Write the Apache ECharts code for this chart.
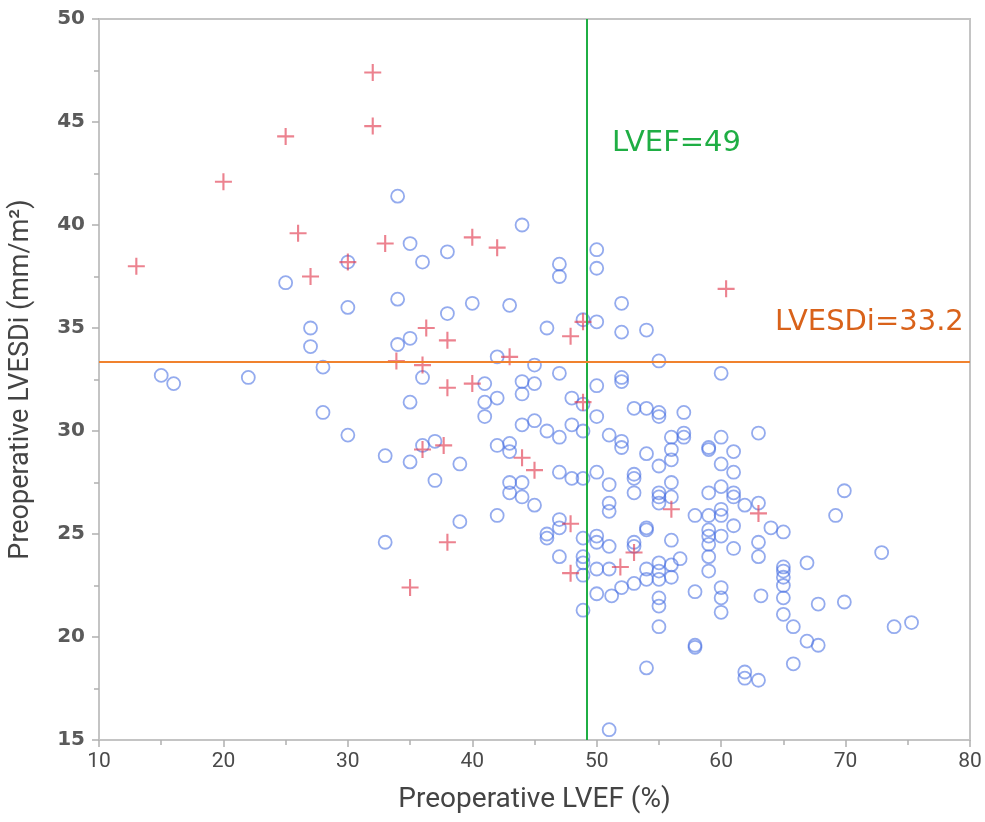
<!DOCTYPE html>
<html>
<head>
<meta charset="utf-8">
<script src="https://cdn.jsdelivr.net/npm/echarts@6/dist/echarts.min.js"></script>
<style>
  html, body { margin: 0; padding: 0; background: #fff; }
  #main { width: 985px; height: 822px; }
</style>
</head>
<body>
<div id="main"></div>
<script>
"use strict"
// axis ticks
var xTicks = { min: 10, max: 80, step: 10 };
var yTicks = { min: 15, max: 50, step: 5 };

// cut-off lines
var lvefCut = 49.2;
var lvesdiCut = 33.35;
var lvefLabel = 'LVEF=49';
var lvesdiLabel = 'LVESDi=33.2';

// open circles: [LVEF, LVESDi]
var circlePoints = [
  [15, 32.7], [16, 32.3], [22, 32.6], [25, 37.2],
  [27, 35.0], [27, 34.1], [28, 33.1], [28, 30.9],
  [30, 38.2], [30, 36.0], [30, 29.8],
  [33, 28.8], [33, 24.6],
  [34, 41.4], [34, 36.4], [34, 34.2],
  [35, 39.1], [35, 34.5], [35, 31.4], [35, 28.5],
  [36, 38.2], [36, 32.6], [36, 29.3],
  [37, 29.5], [37, 27.6],
  [38, 38.7], [38, 35.7],
  [39, 28.4], [39, 25.6],
  [40, 36.2],
  [41, 32.3], [41, 31.4], [41, 30.7],
  [42, 33.6], [42, 31.6], [42, 29.3], [42, 25.9],
  [43, 36.1], [43, 29.4], [43, 29.0], [43, 27.5], [43, 27.0],
  [44, 40.0], [44, 32.4], [44, 31.8], [44, 30.3], [44, 27.5], [44, 26.8],
  [45, 33.2], [45, 32.3], [45, 30.5], [45, 26.4],
  [46, 35.0], [46, 30.0], [46, 25.0], [46, 24.8],
  [47, 38.1], [47, 37.5], [47, 32.8], [47, 29.7], [47, 28.0], [47, 25.7], [47, 25.3], [47, 23.9],
  [48, 31.6], [48, 30.3], [48, 27.7],
  [48.9, 35.4], [48.9, 31.3], [48.9, 30.0], [48.9, 27.7], [48.9, 24.8], [48.9, 23.9], [48.9, 23.6], [48.9, 23.0], [48.9, 21.3],
  [50, 38.8], [50, 37.9], [50, 35.3], [50, 32.2], [50, 30.7], [50, 28.0], [50, 24.9], [50, 24.6], [50, 23.3], [50, 22.1],
  [51, 29.8], [51, 27.4], [51, 26.5], [51, 26.1], [51, 24.4], [51, 23.3], [51.2, 22.0], [51, 15.5],
  [52, 36.2], [52, 34.8], [52, 32.6], [52, 32.4], [52, 29.5], [52, 29.2], [52, 22.4],
  [53, 31.1], [53, 27.9], [53, 27.7], [53, 27.0], [53, 24.6], [53, 24.4], [53, 22.6],
  [54, 34.9], [54, 31.1], [54, 28.9], [54, 25.3], [54, 25.2], [54, 23.3], [54, 22.8], [54, 18.5],
  [55, 33.4], [55, 30.9], [55, 30.7], [55, 28.3], [55, 27.0], [55, 26.8], [55, 26.5],
  [55, 23.6], [55, 23.2], [55, 22.8], [55, 21.9], [55, 21.5], [55, 20.5],
  [56, 29.7], [56, 29.1], [56, 28.6], [56, 27.5], [56, 26.8], [56, 24.7], [56, 23.5], [56, 22.9],
  [57, 30.9], [57, 29.9], [57, 29.7], [56.7, 23.8],
  [57.9, 25.9], [57.9, 22.2], [57.9, 19.5], [57.9, 19.6],
  [59, 29.2], [59, 29.1], [59, 27.0], [59, 25.9], [59, 25.2], [59, 24.9], [59, 24.5], [59, 23.9], [59, 23.2],
  [60, 32.8], [60, 29.7], [60, 28.4], [60, 27.3], [60, 26.2], [60, 25.9], [60, 24.9], [60, 22.4], [60, 21.9], [60, 21.2],
  [61, 29.0], [61, 28.0], [61, 27.0], [61, 26.8], [61, 25.4], [61, 24.3],
  [61.9, 26.4], [61.9, 18.3], [61.9, 18.0],
  [63, 29.9], [63, 26.5], [63, 24.6], [63, 23.9], [63.2, 22.0], [63, 17.9],
  [64, 25.3],
  [65, 25.1], [65, 23.4], [65, 23.2], [65, 22.9], [65, 22.5], [65, 21.9], [65, 21.1],
  [65.8, 20.5], [65.8, 18.7],
  [66.9, 23.6], [66.9, 19.8],
  [67.8, 21.6], [67.8, 19.6],
  [69.2, 25.9],
  [69.9, 27.1], [69.9, 21.7],
  [72.9, 24.1], [73.9, 20.5], [75.3, 20.7]
];

// red crosses: [LVEF, LVESDi]
var crossPoints = [
  [13, 38.0], [20, 42.1], [25, 44.3], [26, 39.6], [27, 37.5], [30, 38.2],
  [32, 47.4], [32, 44.8], [33, 39.1], [33.9, 33.4], [35, 22.4],
  [36.3, 35.0], [36, 33.2], [36, 29.1], [37.7, 29.3],
  [38, 34.4], [38, 32.1], [38, 24.6],
  [40, 39.4], [40, 32.3], [42, 38.9], [43, 33.6],
  [44, 28.7], [45, 28.1], [47.9, 34.6], [48.9, 35.3], [48.9, 31.4],
  [47.9, 25.5], [47.9, 23.1], [51.9, 23.4], [53, 24.1], [56, 26.2],
  [60.4, 36.9], [63, 26.0]
];

var myChart = echarts.init(document.getElementById('main'));
var option = null;

var titleFont = "Roboto, sans-serif";

option = {
  backgroundColor: '#fff',
  animation: false,
  grid: {
    left: 94, right: 15, top: 19, bottom: 82,
    show: true, borderColor: '#c4c4c4', borderWidth: 2
  },
  xAxis: {
    type: 'value',
    min: xTicks.min, max: xTicks.max, interval: xTicks.step,
    name: 'Preoperative LVEF (%)',
    nameLocation: 'middle', nameGap: 46,
    nameTextStyle: { fontFamily: titleFont, fontSize: 28, color: '#444' },
    axisLine: { lineStyle: { color: '#c4c4c4', width: 2 } },
    axisTick: { length: 7, lineStyle: { color: '#b0b0b0', width: 1.5 } },
    minorTick: { show: true, splitNumber: 2, length: 5, lineStyle: { color: '#b0b0b0', width: 1.5 } },
    splitLine: { show: false },
    axisLabel: { margin: 11, fontFamily: titleFont, fontSize: 21, color: '#4a4a4a' }
  },
  yAxis: {
    type: 'value',
    min: yTicks.min, max: yTicks.max, interval: yTicks.step,
    name: 'Preoperative LVESDi (mm/m²)',
    nameLocation: 'middle', nameGap: 64, nameRotate: 90,
    nameTextStyle: { fontFamily: titleFont, fontSize: 27, color: '#444' },
    axisLine: { lineStyle: { color: '#c4c4c4', width: 2 } },
    axisTick: { length: 7, lineStyle: { color: '#b0b0b0', width: 1.5 } },
    minorTick: { show: true, splitNumber: 2, length: 5, lineStyle: { color: '#b0b0b0', width: 1.5 } },
    splitLine: { show: false },
    axisLabel: { margin: 14, fontFamily: 'DejaVu Sans', fontSize: 20, fontWeight: 'bold', color: '#5a5a5a' }
  },
  series: [
    {
      name: 'circles',
      type: 'scatter',
      symbol: 'circle',
      symbolSize: 13,
      itemStyle: { color: 'rgba(0,0,0,0)', borderColor: 'rgba(70,110,225,0.72)', borderWidth: 1.8 },
      data: circlePoints,
      markLine: {
        silent: true,
        symbol: ['none', 'none'],
        label: { show: false },
        data: [
          { xAxis: lvefCut, lineStyle: { color: '#1fae44', width: 2, type: 'solid' } },
          { yAxis: lvesdiCut, lineStyle: { color: '#f0822e', width: 2, type: 'solid' } }
        ]
      }
    },
    {
      name: 'crosses',
      type: 'scatter',
      symbol: 'path://M7,0h2v16h-2z M0,7h16v2h-16z',
      symbolSize: 17,
      itemStyle: { color: 'rgba(225,60,80,0.8)' },
      data: crossPoints
    }
  ],
  graphic: [
    {
      type: 'text', left: 612, top: 129,
      style: { text: lvefLabel, fontFamily: 'DejaVu Sans', fontSize: 29, fill: '#1fae44' }
    },
    {
      type: 'text', left: 775, top: 308,
      style: { text: lvesdiLabel, fontFamily: 'DejaVu Sans', fontSize: 29, fill: '#d9621a' }
    }
  ]
};

// draw the chart
if (option && typeof option === "object") {
  myChart.setOption(option, true);
}
</script>
</body>
</html>
